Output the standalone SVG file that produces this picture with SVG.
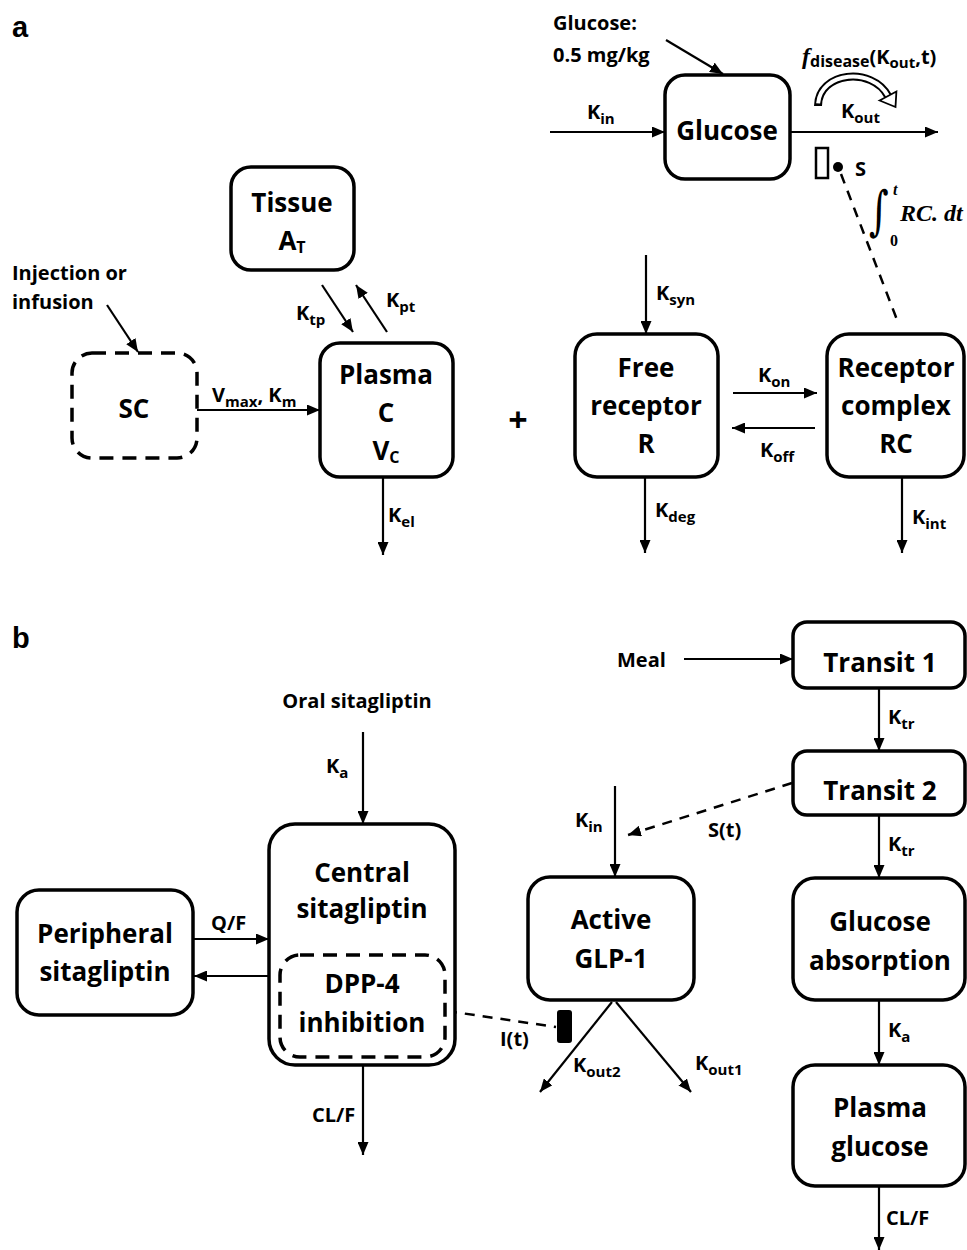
<svg xmlns="http://www.w3.org/2000/svg" width="967" height="1250" viewBox="0 0 967 1250">
<defs>
<style>
.t{font-family:"Open Sans","Liberation Sans",sans-serif;font-weight:700;fill:#000}
.big{font-size:26px;text-anchor:middle}
.sm{font-size:20px}
.sb{font-size:15px}
.sb2{font-size:16px}
.box{fill:#fff;stroke:#000;stroke-width:3.5}
.dbox{fill:none;stroke:#000;stroke-width:3.5;stroke-dasharray:14 9}
.ln{stroke:#000;stroke-width:2.2;fill:none}
.dl{stroke:#000;stroke-width:2.5;stroke-dasharray:10 8;fill:none}
.m{font-family:"Liberation Serif","DejaVu Serif",serif;font-style:italic;font-weight:700;fill:#000}
</style>
<marker id="ah" markerWidth="13" markerHeight="11" refX="13" refY="5.5" orient="auto" markerUnits="userSpaceOnUse"><path d="M0,0 L13,5.5 L0,11 z" fill="#000"/></marker>
</defs>
<rect width="967" height="1250" fill="#fff"/>

<!-- panel labels -->
<text x="12" y="37" font-family="Liberation Sans,Arial,sans-serif" font-weight="700" font-size="29">a</text>
<text x="12" y="648" font-family="Liberation Sans,Arial,sans-serif" font-weight="700" font-size="29">b</text>

<g id="connectors">
<!-- panel a -->
<line class="ln" x1="666" y1="40" x2="723" y2="74" marker-end="url(#ah)"/>
<line class="ln" x1="550" y1="132" x2="665" y2="132" marker-end="url(#ah)"/>
<line class="ln" x1="790" y1="132" x2="938" y2="132" marker-end="url(#ah)"/>
<line class="dl" x1="841" y1="174" x2="899" y2="325"/>
<line class="ln" x1="107" y1="305" x2="138" y2="352" marker-end="url(#ah)"/>
<line class="ln" x1="197" y1="410" x2="320" y2="410" marker-end="url(#ah)"/>
<line class="ln" x1="322" y1="285" x2="353" y2="332" marker-end="url(#ah)"/>
<line class="ln" x1="387" y1="332" x2="356" y2="285" marker-end="url(#ah)"/>
<line class="ln" x1="383" y1="477" x2="383" y2="555" marker-end="url(#ah)"/>
<line class="ln" x1="646" y1="255" x2="646" y2="334" marker-end="url(#ah)"/>
<line class="ln" x1="733" y1="393" x2="817" y2="393" marker-end="url(#ah)"/>
<line class="ln" x1="815" y1="428" x2="732" y2="428" marker-end="url(#ah)"/>
<line class="ln" x1="645" y1="477" x2="645" y2="553" marker-end="url(#ah)"/>
<line class="ln" x1="902" y1="477" x2="902" y2="553" marker-end="url(#ah)"/>
<!-- panel b -->
<line class="ln" x1="363" y1="732" x2="363" y2="824" marker-end="url(#ah)"/>
<line class="ln" x1="193" y1="939" x2="269" y2="939" marker-end="url(#ah)"/>
<line class="ln" x1="269" y1="976" x2="194" y2="976" marker-end="url(#ah)"/>
<line class="ln" x1="363" y1="1065" x2="363" y2="1155" marker-end="url(#ah)"/>
<line class="ln" x1="684" y1="659" x2="793" y2="659" marker-end="url(#ah)"/>
<line class="ln" x1="879" y1="688" x2="879" y2="751" marker-end="url(#ah)"/>
<line class="ln" x1="879" y1="815" x2="879" y2="878" marker-end="url(#ah)"/>
<line class="ln" x1="879" y1="1000" x2="879" y2="1065" marker-end="url(#ah)"/>
<line class="ln" x1="879" y1="1186" x2="879" y2="1250" marker-end="url(#ah)"/>
<line class="ln" x1="615" y1="786" x2="615" y2="877" marker-end="url(#ah)"/>
<line class="dl" x1="792" y1="783" x2="628" y2="835" marker-end="url(#ah)"/>
<line class="ln" x1="612" y1="1002" x2="540" y2="1092" marker-end="url(#ah)"/>
<line class="ln" x1="616" y1="1002" x2="691" y2="1092" marker-end="url(#ah)"/>
<line class="dl" x1="447" y1="1011" x2="556" y2="1027"/>
</g>

<!-- panel a nodes -->
<g id="glucose-dose">
<text class="t sm" x="553" y="30">Glucose:</text>
<text class="t sm" x="553" y="62">0.5 mg/kg</text>
</g>
<g id="glucose">
<rect class="box" x="665" y="75" width="125" height="104" rx="20"/>
<text class="t big" x="727" y="140">Glucose</text>
</g>
<g id="kin-a"><text class="t sm" x="587" y="119">K<tspan class="sb" dy="5">in</tspan></text></g>
<g id="kout-a"><text class="t sm" x="841" y="118">K<tspan class="sb" dy="5">out</tspan></text></g>
<g id="fdisease">
<text class="t sm" x="802" y="64"><tspan class="m" font-size="24">f</tspan><tspan class="sb2" dy="3">disease</tspan><tspan dy="-3">(K</tspan><tspan class="sb" dy="4">out</tspan><tspan dy="-4">,t)</tspan></text>
<path d="M818,106 C818,72 872,66 888,96" fill="none" stroke="#000" stroke-width="8"/>
<path d="M818,106 C818,72 872,66 888,96" fill="none" stroke="#fff" stroke-width="4" stroke-dasharray="300" stroke-dashoffset="-2.5"/>
<polygon points="879.6,100.5 896.4,91.5 895.5,107" fill="#fff" stroke="#000" stroke-width="1.8" stroke-linejoin="miter"/>
</g>
<g id="stimulation">
<rect x="816" y="148" width="12" height="30" fill="#fff" stroke="#000" stroke-width="2.5"/>
<circle cx="838" cy="167" r="5" fill="#000"/>
<text class="t sm" x="855" y="176">S</text>
<text transform="translate(869,229) scale(1,1.4)" font-family="DejaVu Serif,serif" font-size="38">∫</text>
<text class="m" x="893" y="195" font-size="16">t</text>
<text x="890" y="246" font-family="Liberation Serif,serif" font-weight="700" font-size="16">0</text>
<text class="m" x="900" y="221" font-size="24">RC. dt</text>
</g>
<g id="tissue">
<rect class="box" x="231" y="167" width="123" height="103" rx="20"/>
<text class="t big" x="292" y="212">Tissue</text>
<text class="t big" x="292" y="250">A<tspan font-size="16" dy="3">T</tspan></text>
</g>
<g id="injection">
<text class="t sm" x="12" y="280">Injection or</text>
<text class="t sm" x="12" y="309">infusion</text>
</g>
<g id="sc">
<rect class="dbox" x="72" y="353" width="125" height="105" rx="20"/>
<text class="t big" x="134" y="418">SC</text>
</g>
<g id="vmax"><text class="t sm" x="212" y="402">V<tspan class="sb" dy="5">max</tspan><tspan dy="-5">, K</tspan><tspan class="sb" dy="5">m</tspan></text></g>
<g id="plasma">
<rect class="box" x="320" y="343" width="133" height="134" rx="20"/>
<text class="t big" x="386" y="384">Plasma</text>
<text class="t big" x="386" y="422">C</text>
<text class="t big" x="386" y="460">V<tspan font-size="16" dy="3">C</tspan></text>
</g>
<g id="ktp"><text class="t sm" x="296" y="320">K<tspan class="sb" dy="5">tp</tspan></text></g>
<g id="kpt"><text class="t sm" x="386" y="307">K<tspan class="sb" dy="5">pt</tspan></text></g>
<g id="kel"><text class="t sm" x="388" y="522">K<tspan class="sb" dy="5">el</tspan></text></g>
<g id="plus"><text class="t" x="518" y="432" font-size="34" text-anchor="middle">+</text></g>
<g id="ksyn"><text class="t sm" x="656" y="300">K<tspan class="sb" dy="5">syn</tspan></text></g>
<g id="free-receptor">
<rect class="box" x="575" y="334" width="143" height="143" rx="22"/>
<text class="t big" x="646" y="377">Free</text>
<text class="t big" x="646" y="415">receptor</text>
<text class="t big" x="646" y="453">R</text>
</g>
<g id="kon"><text class="t sm" x="758" y="382">K<tspan class="sb" dy="5">on</tspan></text></g>
<g id="koff"><text class="t sm" x="760" y="457">K<tspan class="sb" dy="5">off</tspan></text></g>
<g id="receptor-complex">
<rect class="box" x="827" y="334" width="137" height="143" rx="22"/>
<text class="t big" x="896" y="377">Receptor</text>
<text class="t big" x="896" y="415">complex</text>
<text class="t big" x="896" y="453">RC</text>
</g>
<g id="kdeg"><text class="t sm" x="655" y="517">K<tspan class="sb" dy="5">deg</tspan></text></g>
<g id="kint"><text class="t sm" x="912" y="524">K<tspan class="sb" dy="5">int</tspan></text></g>

<!-- panel b nodes -->
<g id="oral"><text class="t sm" x="357" y="708" text-anchor="middle">Oral sitagliptin</text></g>
<g id="ka-b"><text class="t sm" x="326" y="773">K<tspan class="sb" dy="5">a</tspan></text></g>
<g id="central">
<rect class="box" x="269" y="824" width="186" height="241" rx="26"/>
<text class="t big" x="362" y="882">Central</text>
<text class="t big" x="362" y="918">sitagliptin</text>
</g>
<g id="dpp4">
<rect class="dbox" x="280" y="955" width="165" height="102" rx="20"/>
<text class="t big" x="362" y="993">DPP-4</text>
<text class="t big" x="362" y="1032">inhibition</text>
</g>
<g id="peripheral">
<rect class="box" x="17" y="890" width="176" height="125" rx="22"/>
<text class="t big" x="105" y="943">Peripheral</text>
<text class="t big" x="105" y="981">sitagliptin</text>
</g>
<g id="qf"><text class="t sm" x="211" y="930">Q/F</text></g>
<g id="clf1"><text class="t sm" x="312" y="1122">CL/F</text></g>
<g id="meal"><text class="t sm" x="617" y="667">Meal</text></g>
<g id="transit1">
<rect class="box" x="793" y="622" width="172" height="66" rx="14"/>
<text class="t big" x="880" y="672">Transit 1</text>
</g>
<g id="ktr1"><text class="t sm" x="888" y="724">K<tspan class="sb" dy="5">tr</tspan></text></g>
<g id="transit2">
<rect class="box" x="793" y="751" width="172" height="64" rx="14"/>
<text class="t big" x="880" y="800">Transit 2</text>
</g>
<g id="ktr2"><text class="t sm" x="888" y="851">K<tspan class="sb" dy="5">tr</tspan></text></g>
<g id="glucose-absorption">
<rect class="box" x="793" y="878" width="172" height="122" rx="22"/>
<text class="t big" x="880" y="931">Glucose</text>
<text class="t big" x="880" y="970">absorption</text>
</g>
<g id="ka-b2"><text class="t sm" x="888" y="1037">K<tspan class="sb" dy="5">a</tspan></text></g>
<g id="plasma-glucose">
<rect class="box" x="793" y="1065" width="172" height="121" rx="22"/>
<text class="t big" x="880" y="1117">Plasma</text>
<text class="t big" x="880" y="1156">glucose</text>
</g>
<g id="clf2"><text class="t sm" x="886" y="1225">CL/F</text></g>
<g id="kin-b"><text class="t sm" x="575" y="827">K<tspan class="sb" dy="5">in</tspan></text></g>
<g id="st"><text class="t sm" x="708" y="837">S(t)</text></g>
<g id="glp1">
<rect class="box" x="528" y="877" width="166" height="123" rx="22"/>
<text class="t big" x="611" y="929">Active</text>
<text class="t big" x="611" y="968">GLP-1</text>
</g>
<g id="inhibition-mark"><rect x="557" y="1010" width="15" height="33" rx="3" fill="#000"/></g>
<g id="it"><text class="t sm" x="500" y="1046">I(t)</text></g>
<g id="kout2"><text class="t sm" x="573" y="1072">K<tspan class="sb" dy="5">out2</tspan></text></g>
<g id="kout1"><text class="t sm" x="695" y="1070">K<tspan class="sb" dy="5">out1</tspan></text></g>
</svg>
